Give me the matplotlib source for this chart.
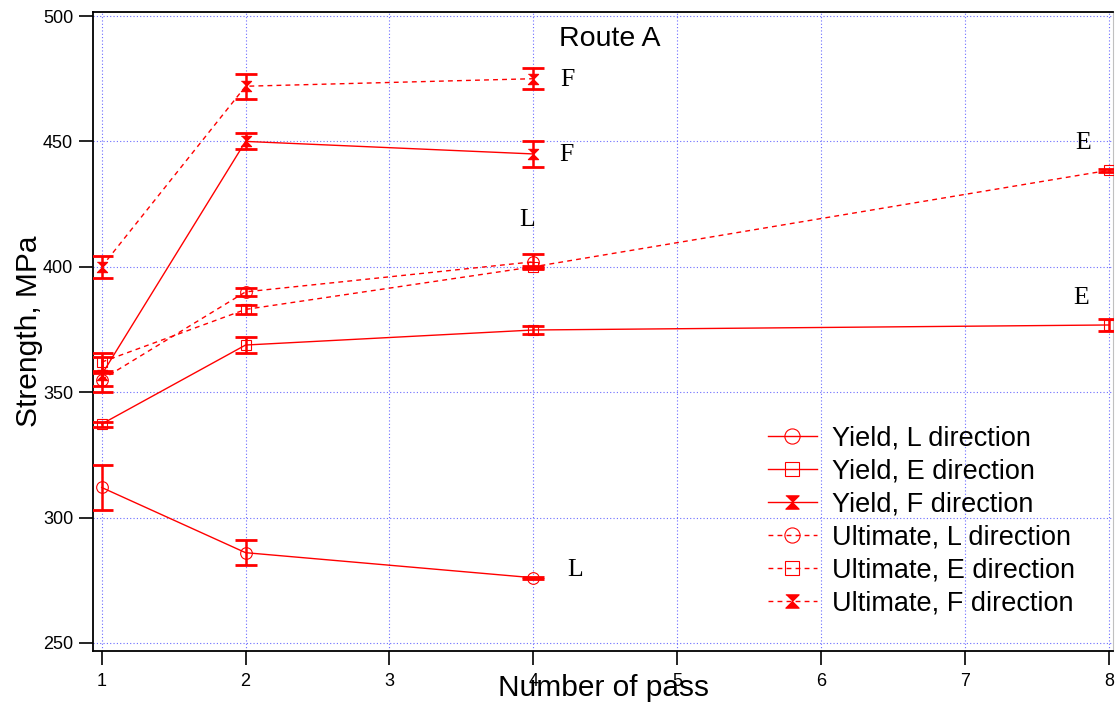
import matplotlib.pyplot as plt

# data (MPa)
x_L = [1, 2, 4]
x_E = [1, 2, 4, 8]
x_F = [1, 2, 4]

yield_L = [312, 286, 276]
yield_L_err = [8.8, 5.0, 0.5]
yield_E = [337.3, 368.8, 374.8, 376.8]
yield_E_err = [1.0, 3.3, 1.6, 2.3]
yield_F = [357, 450, 445]
yield_F_err = [7.0, 3.2, 5.2]

ult_L = [355, 390, 402]
ult_L_err = [2.5, 1.5, 3.0]
ult_E = [362, 383, 400, 438.5]
ult_E_err = [3.5, 1.8, 0.5, 0.5]
ult_F = [400, 472, 475]
ult_F_err = [4.3, 4.9, 4.2]

# direction tags written next to the curves: (text, x, y)
tags = [("F", 4.24, 474.5), ("F", 4.23, 444.6), ("L", 3.96, 418.7),
        ("L", 4.29, 279.1), ("E", 7.82, 449.4), ("E", 7.81, 387.6)]

red = "#ff0000"
bowtie = [(-1, 1), (1, 1), (0, 0), (1, -1), (-1, -1), (0, 0)]
dash = (0, (3.5, 3))

plt.rcParams['font.family'] = ['Liberation Sans', 'DejaVu Sans']

fig = plt.figure(figsize=(11.17, 7.19), dpi=100)
ax = fig.add_axes([0.0835, 0.0946, 0.9129, 0.8887])

series = [
    (x_L, yield_L, yield_L_err, 'o', 'none', '-', "Yield, L direction", 8.4),
    (x_E, yield_E, yield_E_err, 's', 'none', '-', "Yield, E direction", 7.7),
    (x_F, yield_F, yield_F_err, bowtie, 'full', '-', "Yield, F direction", 7.4),
    (x_L, ult_L, ult_L_err, 'o', 'none', dash, "Ultimate, L direction", 8.4),
    (x_E, ult_E, ult_E_err, 's', 'none', dash, "Ultimate, E direction", 7.7),
    (x_F, ult_F, ult_F_err, bowtie, 'full', dash, "Ultimate, F direction", 7.4),
]

for xs, ys, es, mk, fs, ls, lab, ms in series:
    ax.plot(xs, ys, color=red, lw=1.0, linestyle=ls, marker=mk,
            fillstyle=fs, markersize=ms, markeredgewidth=0.8, label=lab,
            zorder=3)
    ax.errorbar(xs, ys, yerr=es, fmt='none', ecolor=red, elinewidth=1.8,
                capsize=7.8, capthick=2.0, zorder=4)

for t, tx, ty in tags:
    ax.text(tx, ty, t, fontsize=18.5, family='Liberation Serif',
            ha='center', va='center')

ax.text(4.53, 490.8, "Route A", fontsize=20.5, ha='center', va='center')

ax.set_xlim(0.9416, 8.028)
ax.set_ylim(246.8, 501.6)
ax.set_xticks(range(1, 9))
ax.set_yticks(range(250, 501, 50))
ax.tick_params(axis='both', direction='out', length=10, width=1.2,
               labelsize=13, colors='black')
ax.tick_params(axis='y', pad=4.5)
ax.tick_params(axis='x', pad=6)
ax.grid(True, color='#6b6bff', linestyle=(0, (1, 2)), linewidth=0.8)
ax.set_axisbelow(True)
for s in ['left', 'bottom', 'top']:
    ax.spines[s].set_linewidth(1.3)
    ax.spines[s].set_color('black')
ax.spines['right'].set_color('#c0c0c0')

ax.set_xlabel("Number of pass", fontsize=21.5)
ax.xaxis.set_label_coords(0.5, -0.036)
ax.set_ylabel("Strength, MPa", fontsize=21.5)
ax.yaxis.set_label_coords(-0.049, 0.5)

ax.legend(loc='center left', bbox_to_anchor=(0.6617, 0.2036), frameon=False,
          fontsize=19.5, handlelength=1.8, handletextpad=0.55,
          labelspacing=0.26, borderpad=0, borderaxespad=0, markerscale=1.3)

fig.savefig("out.png", dpi=100)
